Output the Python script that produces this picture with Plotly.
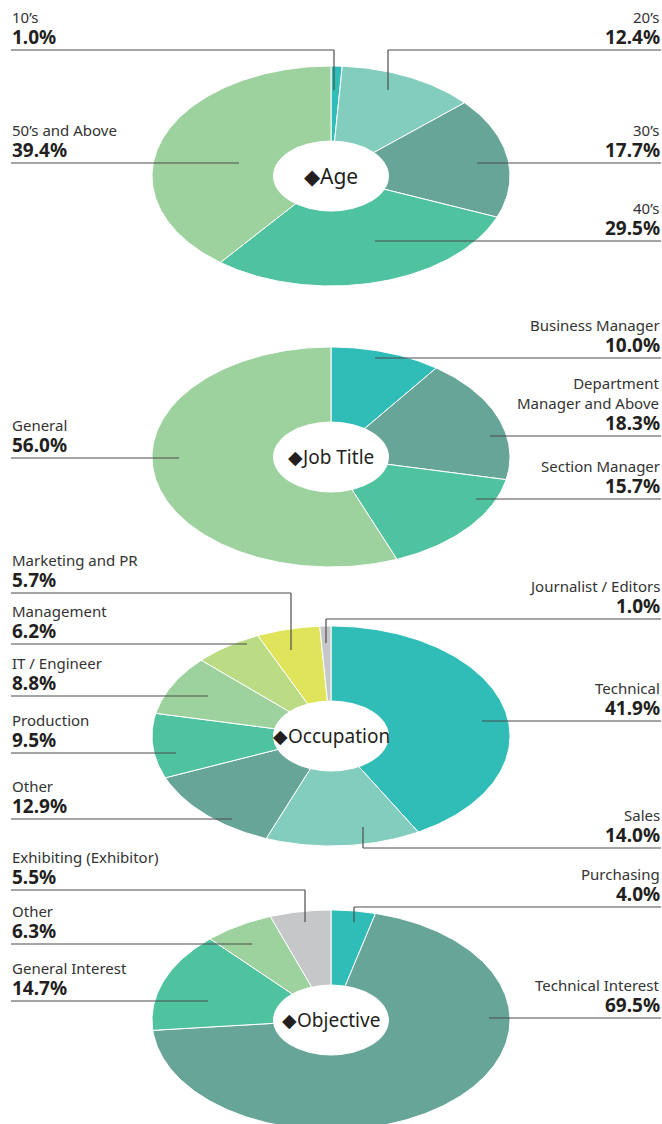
import math
import plotly.graph_objects as go

# ---- data ----
age_labels = ["10’s", "20’s", "30’s", "40’s", "50’s and Above"]
age_values = [1.0, 12.4, 17.7, 29.5, 39.4]

job_labels = ["Business Manager", "Department<br>Manager and Above", "Section Manager", "General"]
job_values = [10.0, 18.3, 15.7, 56.0]

occ_labels = ["Technical", "Sales", "Other", "Production", "IT / Engineer",
              "Management", "Marketing and PR", "Journalist / Editors"]
occ_values = [41.9, 14.0, 12.9, 9.5, 8.8, 6.2, 5.7, 1.0]

obj_labels = ["Purchasing", "Technical Interest", "General Interest", "Other", "Exhibiting (Exhibitor)"]
obj_values = [4.0, 69.5, 14.7, 6.3, 5.5]

titles = ["◆Age", "◆Job Title", "◆Occupation", "◆Objective"]

# ---- style ----
TEAL = "#30bdb8"
LTEAL = "#82cdbd"
SAGE = "#66a597"
GREEN = "#4fc2a0"
LGREEN = "#9dd29e"
LIME = "#bcdb85"
YELLOW = "#e0e45a"
GREY = "#c6c7c9"

age_colors = [TEAL, LTEAL, SAGE, GREEN, LGREEN]
job_colors = [TEAL, SAGE, GREEN, LGREEN]
occ_colors = [TEAL, LTEAL, SAGE, GREEN, LGREEN, LIME, YELLOW, GREY]
obj_colors = [TEAL, SAGE, GREEN, LGREEN, GREY]

# leader lines: (side, line y, anchor x, elbow end y or None)
age_leaders = [("L", 50, 334, 90), ("R", 50, 388, 90), ("R", 163, 477, None),
               ("R", 241, 375, None), ("L", 163, 239, None)]
job_leaders = [("R", 358, 375, None), ("R", 436, 490, None), ("R", 499, 476, None),
               ("L", 458, 179, None)]
occ_leaders = [("R", 721, 482, None), ("R", 848, 363, 827), ("L", 819, 232, None),
               ("L", 753, 176, None), ("L", 696, 208, None), ("L", 644, 247, None),
               ("L", 593, 291, 650), ("R", 619, 326, 643)]
obj_leaders = [("R", 907, 354, 922), ("R", 1018, 489, None), ("L", 1001, 208, None),
               ("L", 944, 252, None), ("L", 890, 305, 922)]

W, H = 662, 1124
CX, RX, RY = 331, 179, 110
HOLE_RX, HOLE_RY = 58, 35.5
centers = [176, 457, 736, 1020]
title_sizes = [21, 19, 19, 19]
LEFT_X, RIGHT_X = 11, 661
LINE_COLOR = "#4d4d4d"
TEXT_COLOR = "#333333"
PCT_COLOR = "#231f20"
FONT = "Noto Sans"

pies = [
    (age_labels, age_values, age_colors, age_leaders),
    (job_labels, job_values, job_colors, job_leaders),
    (occ_labels, occ_values, occ_colors, occ_leaders),
    (obj_labels, obj_values, obj_colors, obj_leaders),
]

fig = go.Figure()
shapes = []
annotations = []


def sector(cy, start, end):
    # clockwise from 12 o'clock on a vertically squashed circle
    n = max(3, int((end - start) * 4))
    xs, ys = [CX], [cy]
    for i in range(n + 1):
        t = 2 * math.pi * (start + (end - start) * i / n) / 100
        xs.append(CX + RX * math.sin(t))
        ys.append(cy - RY * math.cos(t))
    xs.append(CX)
    ys.append(cy)
    return xs, ys


for (labels, values, colors, leaders), cy, title, tsize in zip(pies, centers, titles, title_sizes):
    total = sum(values)
    cum = 0
    for lab, val, col in zip(labels, values, colors):
        start = cum / total * 100
        cum += val
        end = cum / total * 100
        xs, ys = sector(cy, start, end)
        fig.add_trace(go.Scatter(
            x=xs, y=ys, mode="lines", fill="toself", fillcolor=col,
            line={"color": "white", "width": 1}, hoverinfo="text",
            text=f"{lab.replace('<br>', ' ')}: {val:.1f}%", showlegend=False,
        ))

    shapes.append(dict(type="circle", xref="x", yref="y", x0=CX - HOLE_RX, x1=CX + HOLE_RX,
                       y0=cy - HOLE_RY, y1=cy + HOLE_RY, fillcolor="white",
                       line={"width": 0}, layer="above"))
    annotations.append(dict(x=CX, y=cy, text=title, showarrow=False, xanchor="center",
                            yanchor="middle", font={"family": FONT, "size": tsize, "color": PCT_COLOR}))

    for lab, val, (side, ly, ax, ey) in zip(labels, values, leaders):
        edge = LEFT_X if side == "L" else RIGHT_X
        shapes.append(dict(type="line", xref="x", yref="y", x0=edge, x1=ax, y0=ly, y1=ly,
                           line={"color": LINE_COLOR, "width": 1.2}))
        if ey is not None:
            shapes.append(dict(type="line", xref="x", yref="y", x0=ax, x1=ax, y0=ly, y1=ey,
                               line={"color": LINE_COLOR, "width": 1.2}))
        xa = "left" if side == "L" else "right"
        annotations.append(dict(x=edge, y=ly - 22.5, text=lab, showarrow=False, xanchor=xa,
                                yanchor="bottom", align=xa, borderpad=0,
                                font={"family": FONT, "size": 15, "color": TEXT_COLOR}))
        annotations.append(dict(x=edge, y=ly + 1, text=f"<b>{val:.1f}%</b>", showarrow=False,
                                xanchor=xa, yanchor="bottom", borderpad=0,
                                font={"family": FONT, "size": 19, "color": PCT_COLOR}))

fig.update_layout(
    width=W, height=H,
    margin={"l": 0, "r": 0, "t": 0, "b": 0},
    paper_bgcolor="white", plot_bgcolor="white",
    xaxis={"range": [0, W], "visible": False, "fixedrange": True},
    yaxis={"range": [H, 0], "visible": False, "fixedrange": True},
    shapes=shapes, annotations=annotations,
    showlegend=False,
)

# drop the default page margin so the figure fills the window
fig.write_html(
    "out.html",
    config={"displayModeBar": False},
    post_script="document.body.style.margin='0';document.body.style.overflow='hidden';",
)
